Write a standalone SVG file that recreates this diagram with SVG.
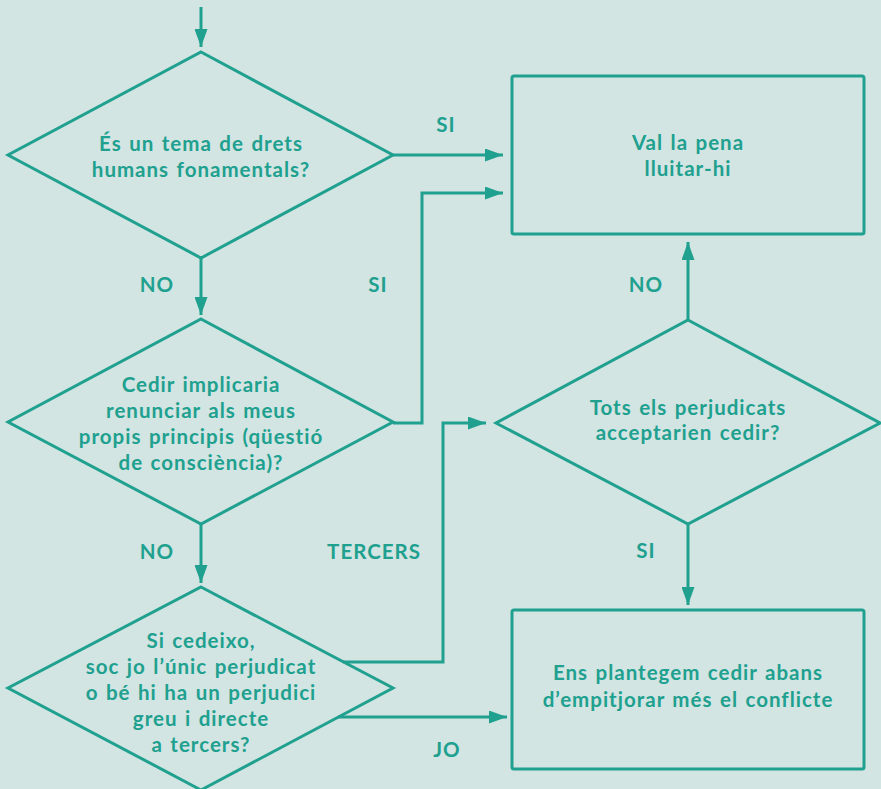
<svg xmlns="http://www.w3.org/2000/svg" width="881" height="789" viewBox="0 0 881 789">
<defs>
<style>
.bg{fill:#d2e5e2}
.shape{fill:none;stroke:#20a08f;stroke-width:3;stroke-linejoin:miter}
.box{fill:none;stroke:#20a08f;stroke-width:3}
.conn{fill:none;stroke:#20a08f;stroke-width:3}
text{font-family:Lato,"Noto Sans","Liberation Sans",sans-serif;font-weight:700;font-size:20.5px;letter-spacing:1px;word-spacing:1.5px;fill:#20a08f;text-anchor:middle}
</style>
<marker id="ah" markerUnits="userSpaceOnUse" markerWidth="18" markerHeight="13" refX="18" refY="6.5" orient="auto" viewBox="0 0 18 13">
<path d="M0,0 L18,6.5 L0,13 z" fill="#20a08f"/>
</marker>
</defs>
<rect class="bg" x="0" y="0" width="881" height="789"/>
<g id="connectors">
<path class="conn" d="M201,7 V47" marker-end="url(#ah)"/>
<path class="conn" d="M393,155 H503" marker-end="url(#ah)"/>
<path class="conn" d="M201,258 V315" marker-end="url(#ah)"/>
<path class="conn" d="M393,423 H422 V193 H503" marker-end="url(#ah)"/>
<path class="conn" d="M201,524 V583" marker-end="url(#ah)"/>
<path class="conn" d="M343,662 H443 V423 H486" marker-end="url(#ah)"/>
<path class="conn" d="M338,717 H507" marker-end="url(#ah)"/>
<path class="conn" d="M688,320 V242" marker-end="url(#ah)"/>
<path class="conn" d="M688,524 V605" marker-end="url(#ah)"/>
<text x="446" y="132">SI</text>
<text x="157" y="292">NO</text>
<text x="378" y="292">SI</text>
<text x="646" y="292">NO</text>
<text x="157" y="559">NO</text>
<text x="374" y="559">TERCERS</text>
<text x="646" y="558">SI</text>
<text x="447" y="757">JO</text>
</g>
<g id="q1">
<polygon class="shape" points="201,52 393,155 201,258 8,155"/>
<text x="201" y="151">És un tema de drets</text>
<text x="201" y="177">humans fonamentals?</text>
</g>
<g id="q2">
<polygon class="shape" points="201,319 393,422 201,524 8,422"/>
<text x="201" y="392">Cedir implicaria</text>
<text x="201" y="418">renunciar als meus</text>
<text x="201" y="444">propis principis (qüestió</text>
<text x="201" y="470">de consciència)?</text>
</g>
<g id="q3">
<polygon class="shape" points="201,587 393,688 201,790 8,688"/>
<text x="201" y="648">Si cedeixo,</text>
<text x="201" y="674">soc jo l’únic perjudicat</text>
<text x="201" y="700">o bé hi ha un perjudici</text>
<text x="201" y="726">greu i directe</text>
<text x="201" y="752">a tercers?</text>
</g>
<g id="q4">
<polygon class="shape" points="688,320 880,423 688,524 496,423"/>
<text x="688" y="415">Tots els perjudicats</text>
<text x="688" y="440">acceptarien cedir?</text>
</g>
<g id="fight">
<rect class="box" x="512" y="76" width="352" height="158" rx="2"/>
<text x="688" y="150">Val la pena</text>
<text x="688" y="176">lluitar-hi</text>
</g>
<g id="yield">
<rect class="box" x="512" y="610" width="352" height="159" rx="2"/>
<text x="688" y="680">Ens plantegem cedir abans</text>
<text x="688" y="707">d’empitjorar més el conflicte</text>
</g>
</svg>
